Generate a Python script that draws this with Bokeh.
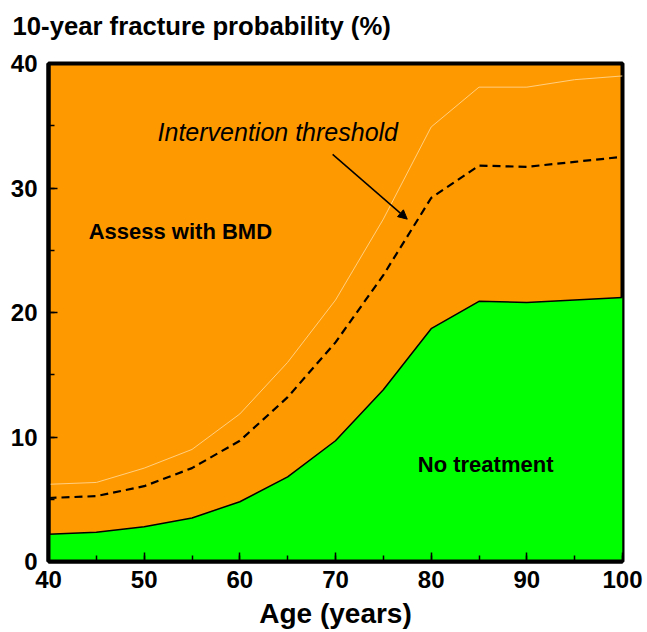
from bokeh.plotting import figure
from bokeh.models import Range1d, Label, Arrow, NormalHead, FixedTicker, Title
from bokeh.embed import file_html
from bokeh.resources import INLINE

age = [40, 45, 50, 55, 60, 65, 70, 75, 80, 85, 90, 95, 100]
upper = [6.2, 6.35, 7.5, 9.0, 11.85, 16.0, 21.0, 27.5, 34.9, 38.1, 38.1, 38.7, 39.0]
threshold = [5.1, 5.25, 6.05, 7.5, 9.7, 13.2, 17.6, 23.0, 29.2, 31.8, 31.7, 32.1, 32.5]
lower = [2.18, 2.34, 2.8, 3.5, 4.8, 6.8, 9.7, 13.8, 18.7, 20.9, 20.8, 21.0, 21.2]
x_ticks = [40, 50, 60, 70, 80, 90, 100]
y_ticks = [0, 10, 20, 30, 40]

FONT = "Liberation Sans"

p = figure(width=647, height=632, output_backend="svg", toolbar_location=None,
           x_range=Range1d(40, 100), y_range=Range1d(0, 40),
           min_border_left=48, min_border_right=25, min_border_top=0, min_border_bottom=71)
p.background_fill_color = "#FF9900"
p.border_fill_color = "white"
p.outline_line_color = "black"
p.outline_line_width = 4
p.xgrid.visible = False
p.ygrid.visible = False

# spacer between title and frame
p.add_layout(Title(text=" ", text_font_size="1px", standoff=11), "above")
p.add_layout(Title(text="10-year fracture probability (%)", align="left", offset=-36,
                   standoff=19, vertical_align="bottom", text_font=FONT,
                   text_font_style="bold", text_font_size="25.7px", text_color="black"), "above")

p.varea(x=age, y1=[0] * len(age), y2=lower, fill_color="#00FF00")
p.line(age, lower, line_color="black", line_width=1.5)
p.line(age, upper, line_color="#FFCF80", line_width=1)
p.line(age, threshold, line_color="black", line_width=2.2, line_dash="8 5")

for ax, ticks in ((p.xaxis, x_ticks), (p.yaxis, y_ticks)):
    ax.ticker = FixedTicker(ticks=ticks, minor_ticks=list(range(0, 101, 5)))
    ax.axis_line_width = 4
    ax.axis_line_color = "black"
    ax.major_tick_in = 9
    ax.major_tick_out = 0
    ax.minor_tick_in = 6
    ax.minor_tick_out = 0
    ax.major_tick_line_width = 1.5
    ax.minor_tick_line_width = 1.5
    ax.major_label_text_font = FONT
    ax.major_label_text_font_style = "bold"
    ax.major_label_text_font_size = "24px"
    ax.major_label_text_color = "black"

p.xaxis.major_label_standoff = 9
p.yaxis.major_label_standoff = 11
p.xaxis.axis_label = "Age (years)"
p.xaxis.axis_label_text_font = FONT
p.xaxis.axis_label_text_font_style = "bold"
p.xaxis.axis_label_text_font_size = "28px"
p.xaxis.axis_label_text_color = "black"
p.xaxis.axis_label_standoff = 7

p.add_layout(Label(x=51.4, y=34.5, text="Intervention threshold",
                   text_font=FONT, text_font_style="italic", text_font_size="25px",
                   text_baseline="middle", text_color="black"))
p.add_layout(Label(x=44.2, y=26.5, text="Assess with BMD",
                   text_font=FONT, text_font_style="bold", text_font_size="22px",
                   text_baseline="middle", text_color="black"))
p.add_layout(Label(x=78.6, y=7.8, text="No treatment",
                   text_font=FONT, text_font_style="bold", text_font_size="22px",
                   text_baseline="middle", text_color="black"))
p.add_layout(Arrow(x_start=69.7, y_start=32.7, x_end=77.5, y_end=27.5,
                   line_color="black", line_width=1.5,
                   end=NormalHead(size=9, fill_color="black", line_color="black")))

open("out.html", "w").write(file_html(p, INLINE))
